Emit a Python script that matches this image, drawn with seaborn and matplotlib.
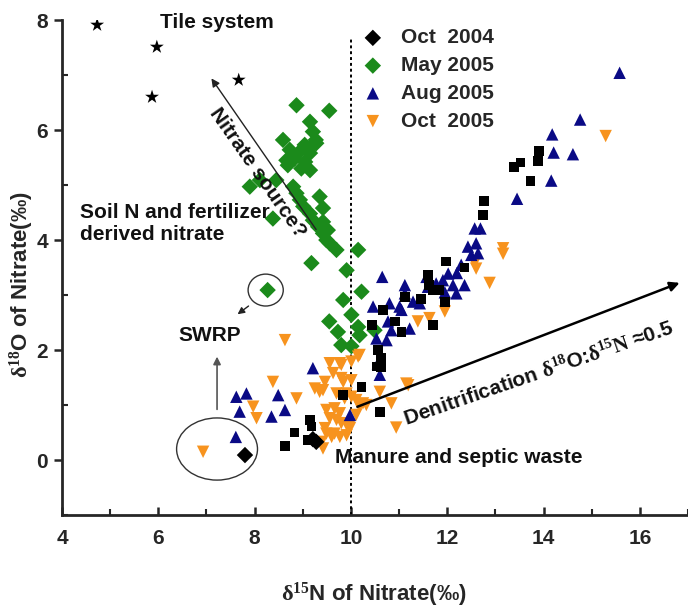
import matplotlib
matplotlib.use("Agg")
import matplotlib.pyplot as plt
from matplotlib.patches import Ellipse
from matplotlib.ticker import MultipleLocator
import seaborn as sns
import pandas as pd

# ---------------- data ----------------
tile_x = [4.73, 5.97, 5.87, 7.67]
tile_y = [7.91, 7.51, 6.60, 6.91]

oct2004_x = [7.80, 9.21, 9.28]
oct2004_y = [0.09, 0.38, 0.33]

may2005_x = [8.87, 9.55, 9.15, 9.21, 8.59, 9.27, 9.04, 9.18, 9.28, 8.73, 8.94, 9.15,
             8.66, 8.83, 8.69, 8.97, 9.15, 9.05, 8.45, 7.90, 8.11, 8.80, 8.87, 8.94,
             9.01, 9.15, 9.21, 9.32, 9.42, 9.49, 9.56, 9.35, 8.38, 9.42, 9.42, 9.52,
             9.70, 10.15, 9.18, 9.91, 10.22, 9.84, 10.01, 9.55, 9.73, 10.15, 10.49,
             10.18, 9.80, 10.01, 8.27]
may2005_y = [6.45, 6.35, 6.15, 5.97, 5.82, 5.82, 5.73, 5.70, 5.76, 5.64, 5.61, 5.58,
             5.45, 5.48, 5.36, 5.30, 5.27, 5.42, 5.09, 4.97, 5.09, 4.97, 4.85, 4.73,
             4.61, 4.48, 4.36, 4.24, 4.12, 4.00, 3.94, 4.79, 4.39, 4.58, 4.33, 4.18,
             3.82, 3.82, 3.58, 3.45, 3.06, 2.91, 2.64, 2.52, 2.33, 2.42, 2.36,
             2.27, 2.09, 2.07, 3.09]

aug2005_x = [15.58, 14.76, 14.18, 14.21, 14.61, 14.16, 13.45, 12.57, 12.69, 12.43,
             12.60, 12.50, 12.64, 12.29, 12.36, 12.19, 12.12, 12.02, 11.91, 11.77,
             11.60, 11.57, 11.43, 11.29, 11.12, 11.12, 11.05, 11.01, 10.80, 10.65,
             10.46, 10.77, 10.84, 10.74, 11.22, 10.53, 10.56, 10.60, 9.98, 9.21,
             7.62, 7.83, 8.49, 7.69, 8.63, 8.35, 7.61, 12.20, 11.95]
aug2005_y = [7.04, 6.19, 5.92, 5.59, 5.56, 5.08, 4.75, 4.21, 4.21, 3.88,
             3.94, 3.73, 3.76, 3.55, 3.18, 3.03, 3.18, 3.39, 3.27, 3.21,
             3.15, 3.33, 2.85, 2.88, 3.18, 3.03, 2.73, 2.79, 2.85, 3.33,
             2.79, 2.52, 2.36, 2.18, 2.39, 2.21, 1.76, 1.55, 0.82, 1.67,
             1.15, 1.21, 1.18, 0.88, 0.91, 0.79, 0.42, 3.40, 3.05]

oct2005_x = [15.29, 13.16, 13.16, 12.57, 12.60, 12.88, 11.39, 11.63, 11.95, 10.15,
             10.18, 9.77, 10.01, 9.56, 9.80, 8.63, 11.19, 11.15, 10.25, 10.84,
             10.60, 10.94, 8.38, 8.87, 7.97, 8.04, 6.93, 9.63, 9.80, 9.46,
             9.84, 10.01, 9.25, 9.35, 9.42, 9.70, 9.91, 9.87, 10.01, 10.11,
             10.32, 10.18, 9.49, 9.66, 9.77, 10.11, 9.56, 9.70, 9.80, 9.91,
             9.98, 9.46, 9.49, 9.60, 9.66, 9.77, 9.91, 9.98, 9.39, 9.42]
oct2005_y = [5.89, 3.85, 3.75, 3.58, 3.48, 3.22, 2.52, 2.58, 2.70, 1.88,
             1.91, 1.76, 1.79, 1.76, 1.73, 2.18, 1.36, 1.39, 1.03, 1.03,
             1.24, 0.59, 1.42, 1.12, 0.97, 0.76, 0.15, 1.58, 1.49, 1.42,
             1.42, 1.45, 1.30, 1.24, 1.27, 1.21, 1.21, 1.12, 1.15, 1.09,
             1.00, 0.97, 0.91, 0.94, 0.85, 0.82, 0.76, 0.73, 0.67, 0.64,
             0.64, 0.58, 0.48, 0.42, 0.48, 0.42, 0.45, 0.58, 0.33, 0.21]

other_x = [13.90, 13.88, 13.52, 13.38, 13.73, 12.76, 12.74, 11.97, 12.36, 11.60,
           11.63, 11.70, 11.84, 11.12, 11.46, 10.67, 10.91, 11.05, 10.43, 11.95,
           11.70, 10.56, 10.63, 10.53, 10.63, 10.22, 9.84, 10.60, 9.15, 9.18,
           8.83, 8.63, 9.11]
other_y = [5.62, 5.44, 5.41, 5.33, 5.08, 4.71, 4.45, 3.61, 3.50, 3.36,
           3.18, 3.09, 3.09, 2.97, 2.93, 2.73, 2.52, 2.33, 2.45, 2.88,
           2.45, 2.00, 1.85, 1.70, 1.69, 1.33, 1.18, 0.88, 0.73, 0.61,
           0.50, 0.25, 0.36]

series_labels = ["Oct  2004", "May 2005", "Aug 2005", "Oct  2005"]
x_ticks = [4, 6, 8, 10, 12, 14, 16]
y_ticks = [0, 2, 4, 6, 8]

# ---------------- style ----------------
sns.set_style("ticks")
FONT = ["Liberation Sans", "DejaVu Sans"]
plt.rcParams["font.family"] = FONT
plt.rcParams["font.weight"] = "bold"
plt.rcParams["mathtext.fontset"] = "custom"
plt.rcParams["mathtext.rm"] = "Liberation Serif"
plt.rcParams["mathtext.it"] = "Liberation Serif:italic"
plt.rcParams["mathtext.bf"] = "Liberation Serif:bold"

GREEN = "#1b8a1b"
NAVY = "#0a0a85"
ORANGE = "#f7931e"

fig = plt.figure(figsize=(6.88, 6.10), dpi=100)
ax = fig.add_axes([0.0901, 0.1557, 0.9099, 0.8115])

def sc(x, y, marker, color, s, label=None, z=3):
    df = pd.DataFrame({"x": x, "y": y})
    sns.scatterplot(data=df, x="x", y="y", marker=marker, color=color, s=s,
                    edgecolor="none", linewidth=0, ax=ax, label=label,
                    legend=False, zorder=z)

sc(tile_x, tile_y, "*", "black", 110)
sc(may2005_x, may2005_y, "D", GREEN, 70, series_labels[1])
sc(oct2005_x, oct2005_y, "v", ORANGE, 80, series_labels[3])
sc(aug2005_x, aug2005_y, "^", NAVY, 80, series_labels[2], z=4)
sc(other_x, other_y, "s", "black", 50, None, z=5)
sc(oct2004_x, oct2004_y, "D", "black", 70, series_labels[0], z=6)

ax.set_xlim(4, 17)
ax.set_ylim(-1, 8)
ax.set_xticks(x_ticks)
ax.set_yticks(y_ticks)
ax.xaxis.set_minor_locator(MultipleLocator(1))
ax.yaxis.set_minor_locator(MultipleLocator(1))
ax.tick_params(axis="x", which="major", direction="in", length=6, width=1.8,
               labelsize=15, pad=10)
ax.tick_params(axis="x", which="minor", direction="in", length=4, width=1.5)
ax.tick_params(axis="y", which="major", direction="out", length=6, width=1.8,
               labelsize=15, pad=4)
ax.tick_params(axis="y", which="minor", direction="in", length=4, width=1.5)
for lab in ax.get_xticklabels() + ax.get_yticklabels():
    lab.set_fontweight("bold")
sns.despine(ax=ax)
for sp in ["left", "bottom"]:
    ax.spines[sp].set_linewidth(2)

ax.set_xlabel(r"$\mathrm{\delta^{15}}$N of Nitrate(‰)", fontsize=16,
              fontweight="bold")
ax.set_ylabel(r"$\mathrm{\delta^{18}}$O of Nitrate(‰)", fontsize=16,
              fontweight="bold")
ax.xaxis.set_label_coords(0.498, -0.133)
ax.yaxis.set_label_coords(-0.0415, 0.465)

# dotted vertical line at 10
ax.plot([10, 10], [-1, 7.7], color="black", lw=1.4, ls=(0, (1.5, 1.5)), zorder=2)

# annotations
tk = dict(fontsize=15, fontweight="bold", color="#111111")
ax.text(6.03, 7.96, "Tile system", ha="left", va="center", **tk)
ax.text(4.38, 4.3, "Soil N and fertilizer\nderived nitrate", ha="left",
        va="center", linespacing=1.15, **tk)
ax.text(7.07, 2.27, "SWRP", ha="center", va="center", **tk)
ax.text(9.66, 0.04, "Manure and septic waste", ha="left", va="center", **tk)
ax.text(8.06, 5.22, "Nitrate source?", rotation=-55, ha="center", va="center",
        rotation_mode="anchor", **tk)
ax.text(13.9, 1.58,
        r"Denitrification $\mathrm{\delta^{18}}$O:$\mathrm{\delta^{15}N}$ ≈0.5",
        rotation=19, ha="center", va="center", rotation_mode="anchor", **tk)

ax.annotate("", xy=(7.07, 6.98), xytext=(9.31, 4.15),
            arrowprops=dict(arrowstyle="-|>", color="#222222", lw=1.0,
                            mutation_scale=12))
ax.annotate("", xy=(16.88, 3.24), xytext=(10.08, 0.95),
            arrowprops=dict(arrowstyle="-|>", color="black", lw=1.8,
                            mutation_scale=14))
ax.annotate("", xy=(7.22, 1.93), xytext=(7.22, 0.87),
            arrowprops=dict(arrowstyle="-|>", color="#555555", lw=1.2,
                            mutation_scale=11))
ax.annotate("", xy=(7.60, 2.62), xytext=(7.92, 2.83),
            arrowprops=dict(arrowstyle="-|>", color="#222222", lw=1.0,
                            mutation_scale=10))

ax.add_patch(Ellipse((8.23, 3.09), 0.73, 0.58, fill=False, edgecolor="#333333",
                     lw=1.0, zorder=2))
ax.add_patch(Ellipse((7.22, 0.20), 1.68, 1.13, fill=False, edgecolor="#333333",
                     lw=1.0, zorder=2))

handles, labels = ax.get_legend_handles_labels()
order = [labels.index(l) for l in series_labels]
ax.legend([handles[i] for i in order], [labels[i] for i in order],
          loc="upper left", bbox_to_anchor=(352 / 688, 1 - 20 / 610),
          bbox_transform=fig.transFigure, frameon=False,
          prop={"size": 15, "weight": "bold"}, handletextpad=0.75,
          labelspacing=0.42, borderaxespad=0, handlelength=1.2)

fig.savefig("out.png", dpi=100)
